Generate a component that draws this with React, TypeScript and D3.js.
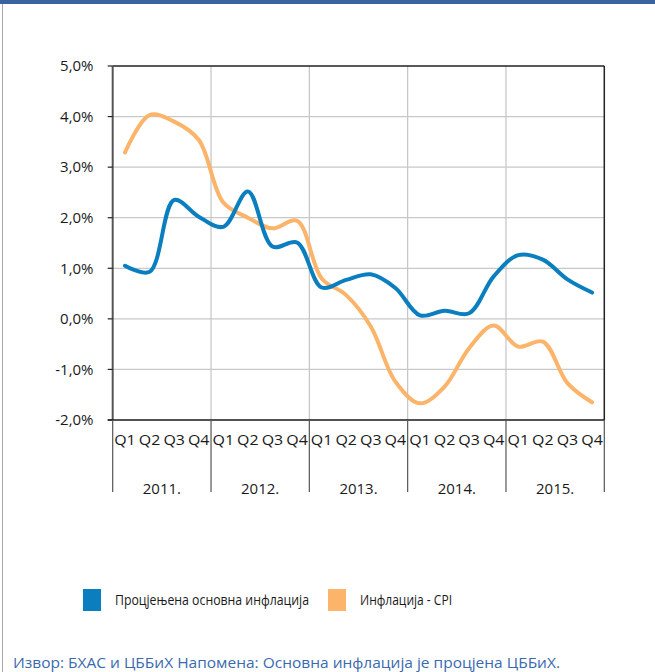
import React from "react";
import * as d3 from "d3";

const years = ["2011.", "2012.", "2013.", "2014.", "2015."];
const quarters = ["Q1", "Q2", "Q3", "Q4"];
const yTicks = [-2, -1, 0, 1, 2, 3, 4, 5];
const coreInflation = [1.05, 0.93, 2.35, 2.02, 1.82, 2.52, 1.43, 1.51, 0.62, 0.77, 0.88, 0.61, 0.07, 0.16, 0.11, 0.84, 1.26, 1.17, 0.78, 0.52];
const cpiInflation = [3.29, 4.03, 3.9, 3.54, 2.3, 2.0, 1.79, 1.94, 0.8, 0.47, -0.15, -1.24, -1.67, -1.34, -0.58, -0.13, -0.55, -0.45, -1.27, -1.65];
const seriesNames = ["Процјењена основна инфлација", "Инфлација - CPI"];
const seriesColors = ["#0a7ebf", "#fbb46a"];
const footnote = "Извор: БХАС и ЦББиХ Напомена: Основна инфлација је процјена ЦББиХ.";

const W = 655, H = 672;
const L = 112.7, R = 604.3, T = 66, B = 420;
const FONT = "'Open Sans', 'Noto Sans', sans-serif";

export default function App() {
  const keys: string[] = [];
  years.forEach((y) => quarters.forEach((q) => keys.push(y + q)));
  const x = d3.scaleBand<string>().domain(keys).range([L, R]).padding(0);
  const xYear = d3.scaleBand<string>().domain(years).range([L, R]).padding(0);
  const y = d3.scaleLinear().domain([-2, 5]).range([B, T]);
  const cx = (i: number) => (x(keys[i]) as number) + x.bandwidth() / 2;
  const line = d3
    .line<number>()
    .x((_, i) => cx(i))
    .y((d) => y(d))
    .curve(d3.curveCatmullRom.alpha(0.5));
  const series = [coreInflation, cpiInflation];

  return (
    <svg width={W} height={H} style={{ position: "absolute", left: 0, top: 0, background: "#fff" }} fontFamily={FONT}>
      <rect x={0} y={0} width={W} height={4} fill="#3a62a2" />
      <line x1={2.5} x2={2.5} y1={4} y2={H} stroke="#a8a8a8" strokeWidth={1} />
      {/* vertical grid */}
      {years.slice(1).map((yr) => (
        <line key={yr} x1={xYear(yr)} x2={xYear(yr)} y1={T} y2={B} stroke="#c4c4c4" strokeWidth={1.2} />
      ))}
      {/* horizontal grid */}
      {yTicks.map((t) => (
        <line key={t} x1={L} x2={R} y1={y(t)} y2={y(t)} stroke={t === 5 ? "#222" : "#c8c8c8"} strokeWidth={t === 5 ? 1.5 : 1.2} />
      ))}
      <line x1={R} x2={R} y1={T} y2={B} stroke="#222" strokeWidth={1.5} />
      {/* y axis */}
      <line x1={L} x2={L} y1={T} y2={B} stroke="#555" strokeWidth={2} />
      {yTicks.map((t) => (
        <g key={"yt" + t}>
          <line x1={L - 5} x2={L} y1={y(t)} y2={y(t)} stroke="#222" strokeWidth={1.2} />
          <text x={93.5} y={y(t)} dy="0.35em" textAnchor="end" fontSize={15} fill="#1a1a1a">
            {d3.format(".1f")(t).replace(".", ",").replace("\u2212", "-") + "%"}
          </text>
        </g>
      ))}
      {/* x axis */}
      <line x1={L - 5} x2={R} y1={B} y2={B} stroke="#222" strokeWidth={1.5} />
      {years.map((yr) => (
        <line key={"xs" + yr} x1={xYear(yr)} x2={xYear(yr)} y1={B} y2={492} stroke="#555" strokeWidth={1.2} />
      ))}
      <line x1={R} x2={R} y1={B} y2={492} stroke="#555" strokeWidth={1.2} />
      {keys.map((k, i) => (
        <text key={"q" + k} x={cx(i)} y={445} textAnchor="middle" fontSize={14.5} fill="#1a1a1a" textLength={21.5} lengthAdjust="spacingAndGlyphs">
          {quarters[i % 4]}
        </text>
      ))}
      {years.map((yr) => (
        <text key={"yl" + yr} x={(xYear(yr) as number) + xYear.bandwidth() / 2} y={494} textAnchor="middle" fontSize={15} fill="#1a1a1a">
          {yr}
        </text>
      ))}
      {/* lines */}
      <g>
        {series
          .map((s, si) => (
            <path key={"s" + si} d={line(s) || ""} fill="none" stroke={seriesColors[si]} strokeWidth={4} strokeLinejoin="round" strokeLinecap="round" />
          ))
          .reverse()}
      </g>
      {/* legend */}
      <rect x={83} y={589} width={18} height={22} fill={seriesColors[0]} />
      <text x={115} y={605} fontSize={14} fill="#1a1a1a" textLength={194} lengthAdjust="spacingAndGlyphs">{seriesNames[0]}</text>
      <rect x={328} y={589} width={18} height={22} fill={seriesColors[1]} />
      <text x={360} y={605} fontSize={14} fill="#1a1a1a" textLength={92} lengthAdjust="spacingAndGlyphs">{seriesNames[1]}</text>
      {/* footnote */}
      <text x={13} y={668} fontSize={14.5} fill="#3a6aaf" textLength={547} lengthAdjust="spacingAndGlyphs">{footnote}</text>
    </svg>
  );
}
